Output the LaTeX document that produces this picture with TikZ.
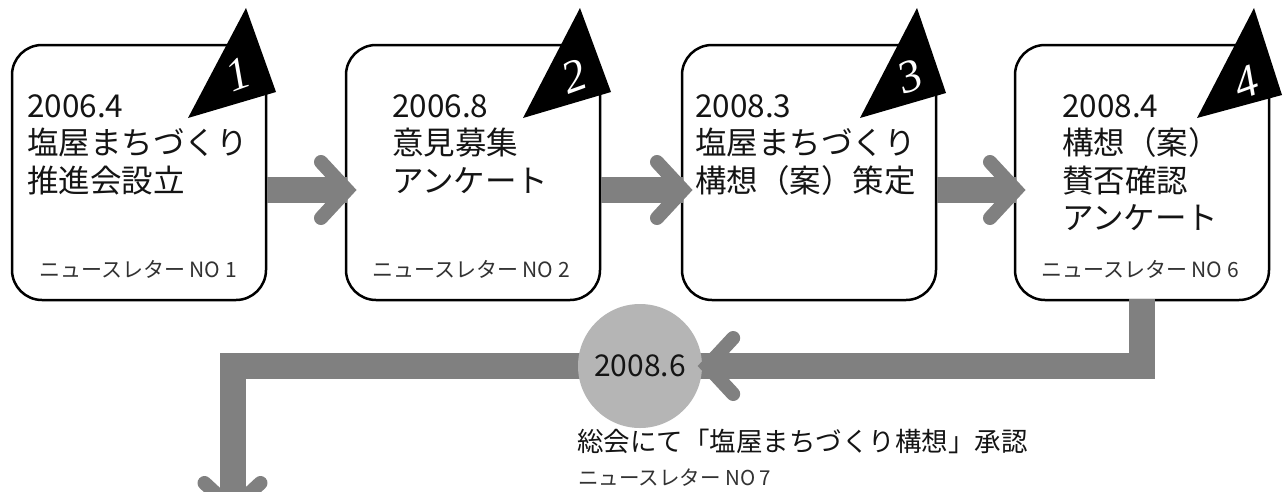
\documentclass[tikz,border=0pt]{standalone}
\usepackage{fontspec}
\setmainfont{Noto Sans CJK JP}
\newfontfamily\numfont{Liberation Serif}
\usetikzlibrary{calc}
\definecolor{arrowgray}{RGB}{128,128,128}
\definecolor{circgray}{RGB}{181,181,181}
\definecolor{txt}{RGB}{20,20,20}
\definecolor{newsc}{RGB}{50,50,50}
\begin{document}
\begin{tikzpicture}[x=1pt,y=-1pt,
  box/.style={draw=black, line width=2.5pt, fill=white, rounded corners=30pt,
    minimum width=254pt, minimum height=255pt, anchor=north west, inner sep=0pt, outer sep=0pt},
  maintext/.style={anchor=north west, align=left, inner sep=0pt, text=txt,
    font=\fontsize{31.5}{37.5}\selectfont},
  news/.style={anchor=base, inner sep=0pt, text=newsc, font=\fontsize{21}{21}\selectfont},
  shaft/.style={draw=arrowgray, line width=26pt},
  chev/.style={draw=arrowgray, line width=14pt, line cap=round, line join=miter},
  tri/.style={fill=black},
  num/.style={text=white, font=\numfont\itshape\fontsize{46}{46}\selectfont, rotate=20, inner sep=0pt}]
\useasboundingbox (0,0) rectangle (1286,491);
\clip (0,0) rectangle (1286,491);
\fill[white] (0,0) rectangle (1286,491);

% boxes
\node[box] (b1) at (12,45) {};
\node[box] (b2) at (346,45) {};
\node[box] (b3) at (682,45) {};
\node[box] (b4) at (1015,45) {};

% triangles
\fill[tri] (188,118) -- (246,8) -- (276,92) -- cycle;
\fill[tri] (523,118) -- (580,8) -- (611,92) -- cycle;
\fill[tri] (860,118) -- (917,8) -- (946,93) -- cycle;
\fill[tri] (1197,118) -- (1254,8) -- (1282,95) -- cycle;
\node[num] (k1) at (238,74) {1};
\node[num] (k2) at (574,76) {2};
\node[num] (k3) at (910,76) {3};
\node[num] (k4) at (1246,82) {4};

% texts
\node[maintext] (t1) at (27,94) {2006.4\\塩屋まちづくり\\推進会設立};
\node[maintext] (t2) at (392,94) {2006.8\\意見募集\\アンケート};
\node[maintext] (t3) at (695,94) {2008.3\\塩屋まちづくり\\構想（案）策定};
\node[maintext] (t4) at (1062,94) {2008.4\\構想（案）\\賛否確認\\アンケート};
\node[news] (n1) at ($(b1.south)+(-1,-23)$) {ニュースレター NO 1};
\node[news] (n2) at ($(b2.south)+(-2,-23)$) {ニュースレター NO 2};
\node[news] (n4) at ($(b4.south)+(-2,-23)$) {ニュースレター NO 6};

% arrows between boxes
\coordinate (a1) at ($(b2.west)+(1,17.5)$);
\coordinate (a2) at ($(b3.west)+(1,17.5)$);
\coordinate (a3) at ($(b4.west)+(1,17.5)$);
\draw[shaft] ($(b1.east)+(1.25,17.5)$) -- (a1);
\draw[chev] ($(a1)+(-26,-28)$) -- (a1) -- ($(a1)+(-26,28)$);
\draw[shaft] ($(b2.east)+(1.25,17.5)$) -- (a2);
\draw[chev] ($(a2)+(-26,-28)$) -- (a2) -- ($(a2)+(-26,28)$);
\draw[shaft] ($(b3.east)+(1.25,17.5)$) -- (a3);
\draw[chev] ($(a3)+(-26,-28)$) -- (a3) -- ($(a3)+(-26,28)$);

% lower path
\coordinate (circc) at (640,366);
\coordinate (down) at (232.5,509);
\draw[shaft] ($(b4.south)+(0,-1.25)$) |- ($(circc)+(60,0)$);
\draw[shaft] (circc) -| (down);
\node[circle, fill=circgray, minimum size=124pt, inner sep=0pt, text=txt,
  font=\fontsize{30}{30}\selectfont] (circ) at (circc) {2008.6};
\coordinate (a4) at ($(circ.east)+(5,0)$);
\draw[chev] ($(a4)+(26,-28)$) -- (a4) -- ($(a4)+(26,28)$);
\draw[chev] ($(down)+(-28,-26)$) -- (down) -- ($(down)+(28,-26)$);

\node[anchor=base west, inner sep=0pt, text=txt, font=\fontsize{26.5}{26.5}\selectfont] (t5)
  at (577,451) {総会にて「塩屋まちづくり構想」承認};
\node[news, anchor=base west, font=\fontsize{20.5}{20.5}\selectfont] (n5) at (578,485) {ニュースレター NO 7};
\end{tikzpicture}
\end{document}
